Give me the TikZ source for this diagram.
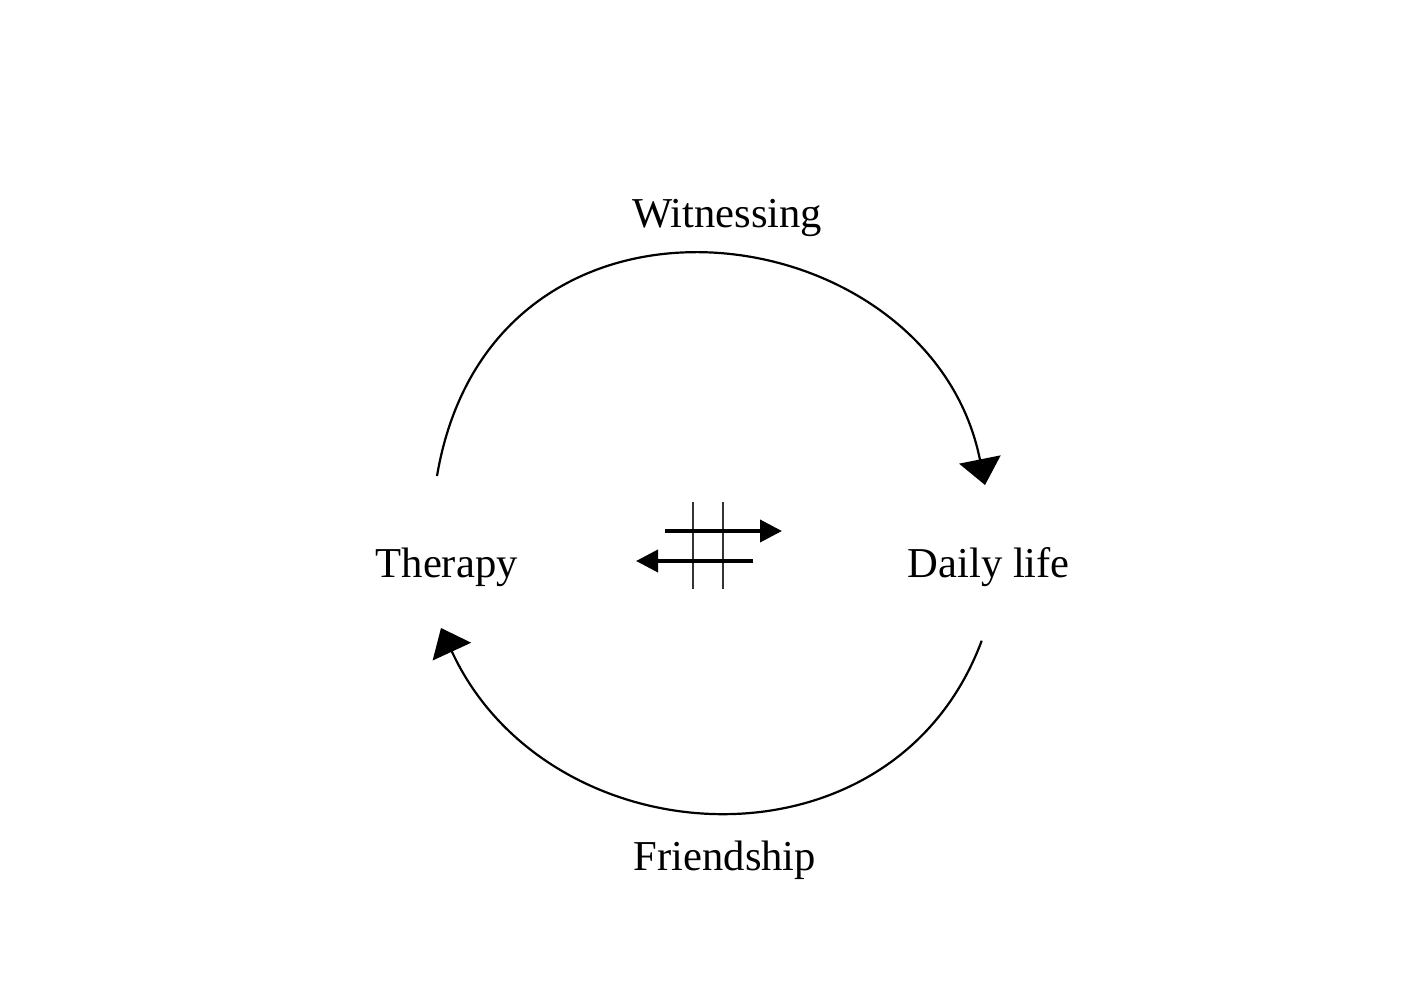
\documentclass[tikz,border=0pt]{standalone}
\usepackage{fontspec}
\setmainfont{Liberation Serif}
\usetikzlibrary{arrows.meta}
\tikzset{
  lbl/.style={anchor=base, inner sep=0pt, font=\fontsize{21.3pt}{25pt}\selectfont},
  cyclearrow/.style={line width=1.1pt, -{Triangle[length=13pt,width=21pt]}},
  smallarrow/.style={line width=1.9pt, -{Triangle[length=11pt,width=11pt]}},
  gridline/.style={line width=0.7pt, black!80}
}
\begin{document}
\begin{tikzpicture}[x=0.5pt,y=0.5pt]
\useasboundingbox (0,0) rectangle (1406,1002);
% labels
\node[lbl] (w) at (727,774.3) {Witnessing};
\node[lbl] (t) at (446.7,425) {Therapy};
\node[lbl] (d) at (988.8,425) {Daily life};
\node[lbl] (f) at (725,131.3) {Friendship};
% cycle arcs
\coordinate (ta) at (437,526);
\coordinate (tb) at (985,517);
\coordinate (ba) at (981.7,361.3);
\coordinate (bb) at (441,374);
\draw[cyclearrow] (ta) .. controls (492.1,851.4) and (930.1,791.4) .. (tb);
\draw[cyclearrow] (ba) .. controls (892.4,121.6) and (548.1,141.9) .. (bb);
% centre symbol
\coordinate (v1a) at (693,500);
\coordinate (v1b) at (693,413);
\coordinate (v2a) at (723,500);
\coordinate (v2b) at (723,413);
\draw[gridline] (v1a) -- (v1b);
\draw[gridline] (v2a) -- (v2b);
\coordinate (ua) at (665,471);
\coordinate (ub) at (782,471);
\coordinate (la) at (753,441);
\coordinate (lb) at (636,441);
\draw[smallarrow] (ua) -- (ub);
\draw[smallarrow] (la) -- (lb);
\end{tikzpicture}
\end{document}
